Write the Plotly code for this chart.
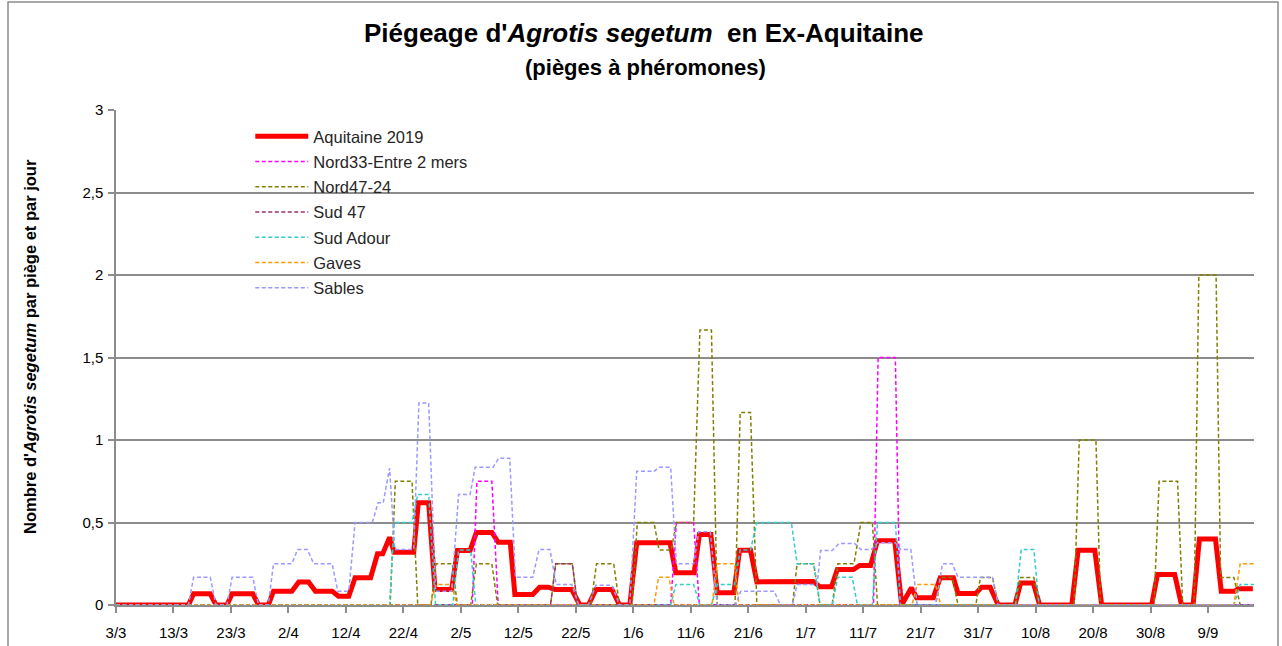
import plotly.graph_objects as go

# ---------------- data (day index: 0 = 3 March 2019) ----------------
tick_days = [0, 10, 20, 30, 40, 50, 60, 70, 80, 90, 100, 110, 120, 130, 140, 150, 160, 170, 180, 190]
tick_labels = ["3/3", "13/3", "23/3", "2/4", "12/4", "22/4", "2/5", "12/5", "22/5", "1/6",
               "11/6", "21/6", "1/7", "11/7", "21/7", "31/7", "10/8", "20/8", "30/8", "9/9"]
y_tick_vals = [0, 0.5, 1, 1.5, 2, 2.5, 3]
y_tick_labels = ["0", "0,5", "1", "1,5", "2", "2,5", "3"]

aquitaine_days = [0, 12.6, 13.5, 16.4, 17.4, 19.3, 20.2, 23.8, 24.8, 26.5, 27.4, 30.6, 31.8, 33.5, 34.7,
                  37.6, 38.7, 40.5, 41.6, 44.3, 45.5, 46.4, 47.6, 48.4, 51.8, 52.6, 54.4, 55.5, 58.4,
                  59.4, 61.6, 62.7, 65.4, 66.5, 68.6, 69.4, 72.5, 73.7, 75.2, 76.4, 79.3, 80.7, 82.2,
                  83.5, 86.3, 87.6, 89.4, 90.6, 96.4, 97.4, 100.6, 101.5, 103.5, 104.6, 107.5, 108.5,
                  110.4, 111.5, 121.3, 122.5, 124.5, 125.5, 128.3, 129.4, 131.3, 132.5, 135.5, 136.7,
                  138.4, 139.3, 142.2, 143.4, 145.7, 146.5, 149.6, 150.6, 152.1, 153.5, 156.4, 157.4,
                  159.6, 160.7, 166.3, 167.4, 170.3, 171.5, 180.2, 181.2, 184.2, 185.4, 187.4, 188.5,
                  191.3, 192.3, 194.7, 195.2, 197.8]
aquitaine_vals = [0, 0, 0.068, 0.068, 0, 0, 0.068, 0.068, 0, 0, 0.084, 0.084, 0.14, 0.14, 0.084,
                  0.084, 0.053, 0.053, 0.165, 0.165, 0.31, 0.31, 0.41, 0.32, 0.32, 0.62, 0.62, 0.094, 0.094,
                  0.33, 0.33, 0.44, 0.44, 0.38, 0.38, 0.064, 0.064, 0.108, 0.108, 0.094, 0.094, 0, 0,
                  0.094, 0.094, 0, 0, 0.377, 0.377, 0.195, 0.195, 0.427, 0.427, 0.074, 0.074, 0.332,
                  0.332, 0.14, 0.143, 0.11, 0.11, 0.215, 0.215, 0.24, 0.24, 0.39, 0.39, 0,
                  0.104, 0.044, 0.044, 0.165, 0.165, 0.07, 0.07, 0.108, 0.108, 0, 0, 0.134,
                  0.134, 0, 0, 0.332, 0.332, 0, 0, 0.185, 0.185, 0, 0, 0.40,
                  0.40, 0.084, 0.084, 0.098, 0.098]

nord33_days = [0, 62, 62.8, 65.4, 66.5, 96.5, 97.5, 100.5, 101.5, 131.8, 132.6, 135.6, 136.4, 198]
nord33_vals = [0, 0, 0.75, 0.75, 0, 0, 0.5, 0.5, 0, 0, 1.5, 1.5, 0, 0]

nord47_days = [0, 47.7, 48.6, 51.5, 52.5, 54.8, 55.7, 58.5, 59.4, 61.7, 62.7, 65.4, 66.4, 75.6, 76.5,
               79.4, 80.3, 82.6, 83.6, 86.6, 87.6, 89.8, 90.7, 93.6, 94.5, 96.6, 97.5, 100.5, 101.6,
               103.6, 104.6, 107.7, 108.6, 110.4, 111.5, 117.7, 118.5, 121.4, 122.5, 124.6, 125.6,
               128.4, 129.6, 131.6, 132.5, 142.6, 143.5, 145.5, 146.5, 149.6, 150.4, 152.5, 153.5,
               156.5, 157.4, 159.7, 160.6, 166.7, 167.6, 170.5, 171.3, 180.6, 181.5, 184.7, 185.6,
               187.6, 188.4, 191.4, 192.2, 194.5, 195.6, 198]
nord47_vals = [0, 0, 0.75, 0.75, 0, 0, 0.25, 0.25, 0, 0, 0.25, 0.25, 0, 0, 0.25,
               0.25, 0, 0, 0.25, 0.25, 0, 0, 0.5, 0.5, 0.333, 0.333, 0.5, 0.5, 1.667,
               1.667, 0, 0, 1.167, 1.167, 0, 0, 0.25, 0.25, 0, 0, 0.25,
               0.25, 0.5, 0.5, 0, 0, 0.167, 0.167, 0, 0, 0.167, 0.167, 0,
               0, 0.167, 0.167, 0, 0, 1.0, 1.0, 0, 0, 0.75, 0.75, 0,
               0, 2.0, 2.0, 0.167, 0.167, 0, 0]

sud47_days = [0, 75.6, 76.5, 79.4, 80.3, 198]
sud47_vals = [0, 0, 0.25, 0.25, 0, 0]

sudadour_days = [0, 47.6, 48.4, 51.5, 52.5, 54.4, 55.6, 58.6, 59.6, 61.7, 62.6, 96.5, 97.4, 100.5,
                 101.6, 103.6, 104.6, 107.6, 108.6, 110.4, 111.5, 117.5, 118.5, 121.4, 122.5, 124.6,
                 125.6, 128.1, 129.0, 131.6, 132.5, 135.6, 136.5, 156.5, 157.5, 159.7, 160.6, 194.5,
                 195.6, 198]
sudadour_vals = [0, 0, 0.5, 0.5, 0.67, 0.67, 0, 0, 0.333, 0.333, 0, 0, 0.124, 0.124,
                 0, 0, 0.124, 0.124, 0.333, 0.333, 0.5, 0.5, 0.25, 0.25, 0, 0,
                 0.168, 0.168, 0, 0, 0.5, 0.5, 0, 0, 0.336, 0.336, 0, 0,
                 0.124, 0.124]

gaves_days = [0, 54.7, 55.7, 58.4, 59.3, 93.6, 94.4, 96.2, 97.1, 103.7, 104.6, 107.6, 108.4, 138.5,
              139.4, 142.6, 143.5, 194.5, 195.6, 198]
gaves_vals = [0, 0, 0.124, 0.124, 0, 0, 0.168, 0.168, 0, 0, 0.25, 0.25, 0, 0,
              0.124, 0.124, 0, 0, 0.25, 0.25]

sables_days = [0, 12.6, 13.5, 16.4, 17.4, 19.3, 20.2, 23.8, 24.8, 26.5, 27.4, 30.6, 31.6, 33.3, 34.4,
               37.6, 38.6, 40.5, 41.6, 44.6, 45.6, 46.5, 47.6, 48.5, 51.8, 52.7, 54.4, 55.6, 58.4,
               59.6, 61.6, 62.5, 65.6, 66.6, 68.5, 69.5, 72.5, 73.6, 75.5, 76.6, 79.3, 80.5, 82.2,
               83.5, 86.3, 87.6, 89.4, 90.6, 93.6, 94.5, 96.5, 97.5, 100.5, 101.4, 103.4, 104.6,
               107.8, 108.7, 114.5, 115.6, 117.7, 118.5, 122.0, 122.6, 124.6, 125.8, 128.5, 129.6,
               131.4, 132.5, 135.6, 136.5, 138.3, 139.4, 142.6, 143.8, 145.5, 146.5, 152.5, 153.5, 198]
sables_vals = [0, 0, 0.168, 0.168, 0, 0, 0.168, 0.168, 0, 0, 0.25, 0.25, 0.336, 0.336, 0.25,
               0.25, 0.084, 0.084, 0.5, 0.5, 0.62, 0.62, 0.83, 0.336, 0.336, 1.225, 1.225, 0.084, 0.084,
               0.67, 0.67, 0.835, 0.835, 0.89, 0.89, 0.168, 0.168, 0.336, 0.336, 0.124, 0.124, 0, 0,
               0.12, 0.12, 0, 0, 0.81, 0.81, 0.835, 0.835, 0.25, 0.25, 0.444, 0.444, 0,
               0, 0.084, 0.084, 0, 0, 0.124, 0.124, 0.33, 0.33, 0.373, 0.373, 0.336,
               0.336, 0.377, 0.377, 0.336, 0.336, 0, 0, 0.25, 0.25, 0.168, 0.168, 0, 0]

series = [
    ("Aquitaine 2019", aquitaine_days, aquitaine_vals, "#FF0000", 5, "solid"),
    ("Nord33-Entre 2 mers", nord33_days, nord33_vals, "#FF00FF", 1.5, "4px,2.5px"),
    ("Nord47-24", nord47_days, nord47_vals, "#808000", 1.5, "4px,2.5px"),
    ("Sud 47", sud47_days, sud47_vals, "#993366", 1.5, "4px,2.5px"),
    ("Sud Adour", sudadour_days, sudadour_vals, "#33CCCC", 1.5, "4px,2.5px"),
    ("Gaves", gaves_days, gaves_vals, "#FF9900", 1.5, "4px,2.5px"),
    ("Sables", sables_days, sables_vals, "#9999FF", 1.5, "4px,2.5px"),
]

FONT = "Liberation Sans, Arial, sans-serif"

fig = go.Figure()
for name, xs, ys, col, w, dash in series:
    fig.add_trace(go.Scatter(x=xs, y=ys, mode="lines", name=name, legendgroup=name,
                             line=dict(color=col, width=w, dash=dash)))

grid_col = "#8C8C8C"
fig.update_layout(
    width=1282, height=646,
    margin=dict(l=116, r=28, t=110, b=41, autoexpand=False),
    paper_bgcolor="white", plot_bgcolor="white",
    font=dict(family=FONT, size=15, color="#000000"),
    showlegend=True,
    legend=dict(x=0.118, y=0.982, xanchor="left", yanchor="top",
                bgcolor="rgba(0,0,0,0)", font=dict(family=FONT, size=16.5, color="#262626"),
                traceorder="grouped", tracegroupgap=0.8, itemwidth=53),
    xaxis=dict(range=[0, 198], tickmode="array", tickvals=tick_days, ticktext=tick_labels,
               showgrid=False, zeroline=False, showline=True, linecolor=grid_col, linewidth=1.5,
               ticks="outside", ticklen=6, tickcolor=grid_col, tickwidth=1.5, ticklabelstandoff=7,
               automargin=False, tickfont=dict(family=FONT, size=15, color="#000000")),
    yaxis=dict(range=[0, 3], tickmode="array", tickvals=y_tick_vals, ticktext=y_tick_labels,
               showgrid=True, gridcolor=grid_col, gridwidth=1.5, zeroline=False,
               showline=True, linecolor=grid_col, linewidth=1.5,
               ticks="outside", ticklen=6, tickcolor=grid_col, tickwidth=1.5, ticklabelstandoff=2,
               automargin=False, tickfont=dict(family=FONT, size=15, color="#000000")),
    annotations=[
        dict(text="<b>Piégeage d'<i>Agrotis segetum</i>  en Ex-Aquitaine</b>", xref="paper", yref="paper",
             x=(644 - 116) / 1138, y=(605 - 33) / 495, xanchor="center", yanchor="middle",
             showarrow=False, font=dict(family=FONT, size=26, color="#000000")),
        dict(text="<b>(pièges à phéromones)</b>", xref="paper", yref="paper",
             x=(645 - 116) / 1138, y=(605 - 68) / 495, xanchor="center", yanchor="middle",
             showarrow=False, font=dict(family=FONT, size=22, color="#000000")),
        dict(text="<b>Nombre d'<i>Agrotis segetum</i> par piège et par jour</b>", xref="paper", yref="paper",
             x=(30 - 116) / 1138, y=(605 - 347) / 495, xanchor="center", yanchor="middle",
             textangle=-90, showarrow=False, font=dict(family=FONT, size=16.5, color="#000000")),
    ],
    shapes=[
        dict(type="rect", xref="paper", yref="paper",
             x0=(8 - 116) / 1138, x1=(1278 - 116) / 1138,
             y0=(605 - 660) / 495, y1=(605 - 2) / 495,
             line=dict(color="#8C8C8C", width=1.5), fillcolor="rgba(0,0,0,0)", layer="below"),
    ],
)

fig.write_html("out.html", config={"displayModeBar": False},
               post_script="document.body.style.margin='0';document.body.style.overflow='hidden';")
